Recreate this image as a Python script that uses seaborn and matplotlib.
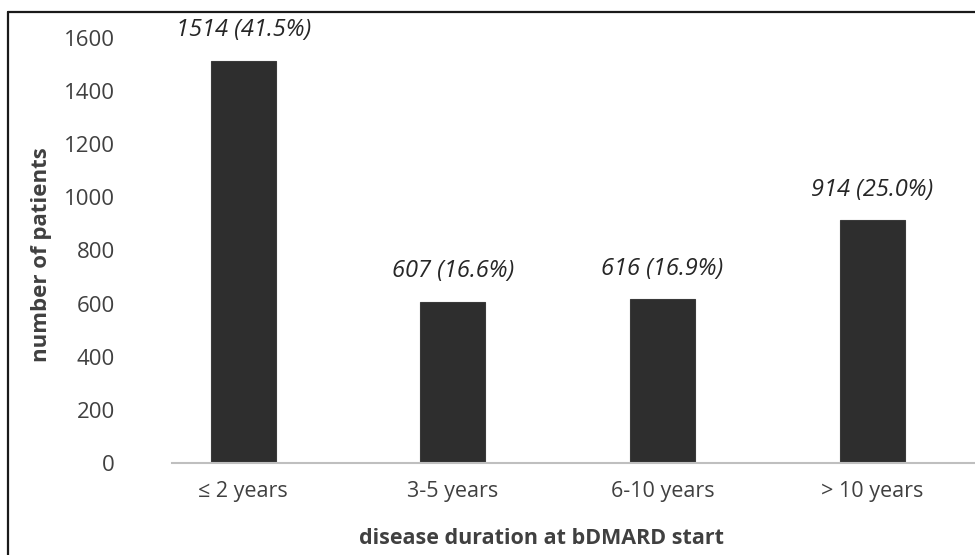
import matplotlib
matplotlib.use("Agg")
import matplotlib.pyplot as plt
import seaborn as sns
import pandas as pd
from matplotlib.lines import Line2D

categories = ["\u2264 2 years", "3-5 years", "6-10 years", "> 10 years"]
counts = [1514, 607, 616, 914]
percents = [41.5, 16.6, 16.9, 25.0]
y_ticks = [0, 200, 400, 600, 800, 1000, 1200, 1400, 1600]

sns.set_theme(style="white")
plt.rcParams['font.family'] = ['Open Sans', 'DejaVu Sans']

W, H = 975, 555
fig = plt.figure(figsize=(9.75, 5.55), dpi=100)
ax = fig.add_axes([172 / W, 1 - 463 / H, (975 - 172) / W, (463 - 38) / H])

df = pd.DataFrame({"cat": categories, "n": counts})
sns.barplot(data=df, x="cat", y="n", color="#2e2e2e", width=0.31, ax=ax,
            saturation=1, edgecolor="#3a3a3a", linewidth=0.8)

ax.set_xlim(-0.34, 3.49)
ax.set_ylim(0, 1600)
ax.set_yticks(y_ticks)
ax.set_yticklabels([str(t) for t in y_ticks])

for s in ["top", "right", "left"]:
    ax.spines[s].set_visible(False)
ax.spines["bottom"].set_color("#bfbfbf")
ax.spines["bottom"].set_linewidth(1.5)

ax.tick_params(axis="y", length=0, pad=41, labelsize=16, labelcolor="#404040")
ax.tick_params(axis="x", length=0, pad=13, labelsize=15.5, labelcolor="#404040")
for lab in ax.get_yticklabels():
    lab.set_horizontalalignment("right")

ax.set_xlabel("disease duration at bDMARD start", fontsize=15.5, fontweight="bold",
              color="#404040")
ax.xaxis.set_label_coords(0.46, -0.152)
ax.set_ylabel("number of patients", fontsize=16, fontweight="bold", color="#404040")
ax.yaxis.set_label_coords(-0.15, 0.49)

for i, (n, p) in enumerate(zip(counts, percents)):
    ax.annotate(f"{n} ({p:.1f}%)", xy=(i, n), xytext=(0, 22), textcoords="offset points",
                ha="center", va="center", fontsize=17, fontstyle="italic", color="#262626")

fig.add_artist(Line2D([8 / W, 1], [1 - 12 / H, 1 - 12 / H], color="#1a1a1a", lw=1.6,
                      transform=fig.transFigure))
fig.add_artist(Line2D([8 / W, 8 / W], [0, 1 - 12 / H], color="#1a1a1a", lw=1.6,
                      transform=fig.transFigure))

fig.savefig("out.png", dpi=100)
